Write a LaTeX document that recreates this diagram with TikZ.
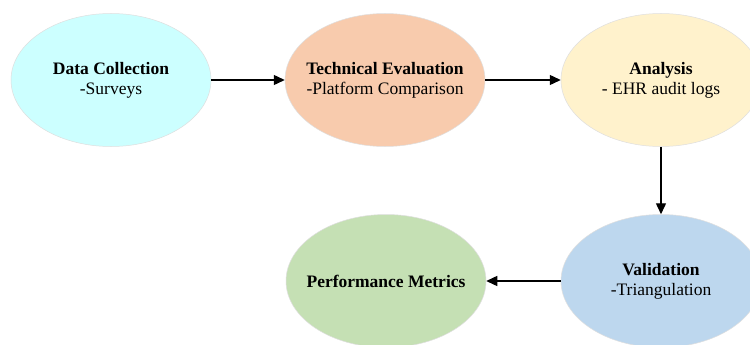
\documentclass[tikz,border=0pt]{standalone}
\usepackage{fontspec}
\setmainfont{Liberation Serif}
\usetikzlibrary{shapes.geometric,arrows.meta}
\definecolor{cyanfill}{HTML}{CCFFFF}
\definecolor{peachfill}{HTML}{F8CBAD}
\definecolor{yellowfill}{HTML}{FFF2CC}
\definecolor{bluefill}{HTML}{BDD7EE}
\definecolor{greenfill}{HTML}{C5E0B4}
\tikzset{
  stage/.style={ellipse, draw=gray!25, line width=0.5pt, minimum width=200pt, minimum height=133pt, inner xsep=-20pt, inner ysep=0pt, align=center, font=\fontsize{17.5}{20}\selectfont},
  flow/.style={line width=1.4pt, -{Triangle[length=11pt,width=10pt]}}
}
\begin{document}
\begin{tikzpicture}[x=1pt,y=1pt]
\useasboundingbox (0,0) rectangle (750,-345);
\clip (0,0) rectangle (750,-345);
\fill[white] (0,0) rectangle (750,-345);
\node[stage, fill=cyanfill] (dc) at (111,-80) {\textbf{Data Collection}\\-Surveys};
\node[stage, fill=peachfill] (te) at (385,-80) {\textbf{Technical Evaluation}\\-Platform Comparison};
\node[stage, fill=yellowfill] (an) at (661,-80) {\textbf{Analysis}\\- EHR audit logs};
\node[stage, fill=bluefill] (va) at (661,-281) {\textbf{Validation}\\-Triangulation};
\node[stage, fill=greenfill] (pm) at (386,-281) {\textbf{Performance Metrics}};
\draw[flow] (dc) -- (te);
\draw[flow] (te) -- (an);
\draw[flow] (an) -- (va);
\draw[flow] (va) -- (pm);
\end{tikzpicture}
\end{document}
